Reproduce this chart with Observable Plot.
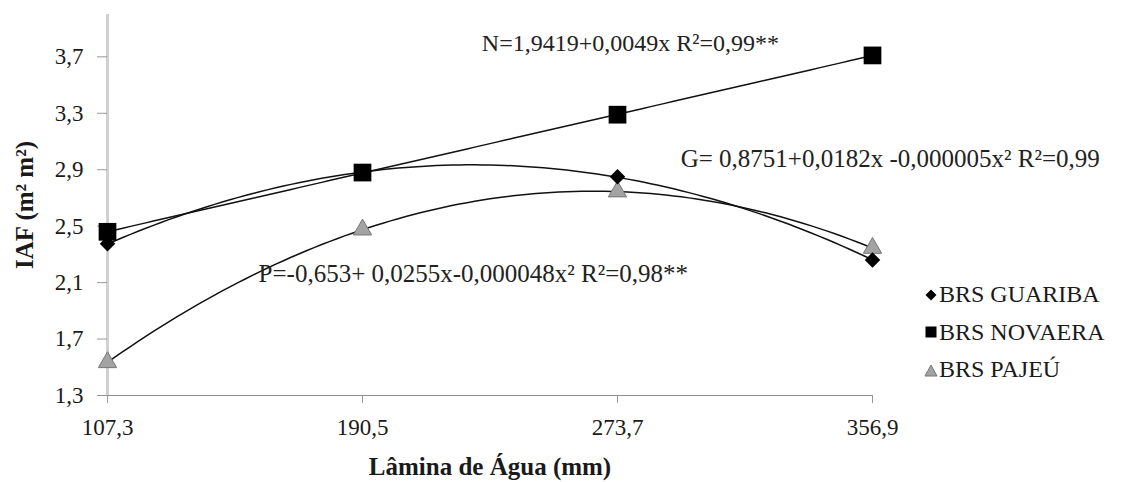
<!DOCTYPE html>
<html>
<head>
<meta charset="utf-8">
<script src="https://cdn.jsdelivr.net/npm/d3@7"></script>
<script src="https://cdn.jsdelivr.net/npm/@observablehq/plot@0.6"></script>
<style>
  html, body { margin: 0; padding: 0; background: #fff; }
  #wrap { position: relative; width: 1121px; height: 482px; font-family: "Liberation Serif", "Times New Roman", serif; }
  #legend { position: absolute; left: 924px; top: 276px; font-size: 24px; color: #1a1a1a; }
  #legend .item { display: flex; align-items: center; height: 37.5px; }
  #legend svg { margin-right: 1px; }
</style>
</head>
<body>
<div id="wrap"></div>
<script>
// ---- data ----
const laminas = [107.3, 190.5, 273.7, 356.9];
const guariba = [2.375, 2.88, 2.85, 2.26];
const novaera = [2.46, 2.88, 3.29, 3.71];
const pajeu   = [1.535, 2.475, 2.745, 2.345];
const yTicks = [1.3, 1.7, 2.1, 2.5, 2.9, 3.3, 3.7];
const seriesNames = ["BRS GUARIBA", "BRS NOVAERA", "BRS PAJEÚ"];
const eqText = [
  "N=1,9419+0,0049x R²=0,99**",
  "G= 0,8751+0,0182x -0,000005x² R²=0,99",
  "P=-0,653+ 0,0255x-0,000048x² R²=0,98**"
];
const eqX = [277.9, 294.3, 156.6];
const eqY = [3.795, 2.979, 2.164];

// ---- least squares polynomial fit (trendlines derived from data) ----
function polyfit(xs, ys, deg) {
  const n = deg + 1;
  const A = Array.from({length: n}, () => new Array(n + 1).fill(0));
  for (let i = 0; i < xs.length; i++) {
    for (let r = 0; r < n; r++) {
      for (let c = 0; c < n; c++) A[r][c] += Math.pow(xs[i], r + c);
      A[r][n] += ys[i] * Math.pow(xs[i], r);
    }
  }
  for (let i = 0; i < n; i++) {
    let p = i;
    for (let k = i + 1; k < n; k++) if (Math.abs(A[k][i]) > Math.abs(A[p][i])) p = k;
    [A[i], A[p]] = [A[p], A[i]];
    for (let k = i + 1; k < n; k++) {
      const f = A[k][i] / A[i][i];
      for (let j = i; j <= n; j++) A[k][j] -= f * A[i][j];
    }
  }
  const coef = new Array(n).fill(0);
  for (let i = n - 1; i >= 0; i--) {
    let s = A[i][n];
    for (let j = i + 1; j < n; j++) s -= A[i][j] * coef[j];
    coef[i] = s / A[i][i];
  }
  return x => coef.reduce((acc, c, k) => acc + c * Math.pow(x, k), 0);
}
function curve(ys, deg, name) {
  const f = polyfit(laminas, ys, deg);
  const x0 = laminas[0], x1 = laminas[laminas.length - 1];
  return d3.range(0, 101).map(i => {
    const x = x0 + (x1 - x0) * i / 100;
    return {x, y: f(x), s: name};
  });
}
const trend = [
  ...curve(guariba, 2, "G"),
  ...curve(novaera, 1, "N"),
  ...curve(pajeu, 2, "P")
];
const pts = (ys, s) => laminas.map((x, i) => ({x, y: ys[i], s}));
const ptsG = pts(guariba, "G"), ptsN = pts(novaera, "N"), ptsP = pts(pajeu, "P");
const eq = eqText.map((t, i) => ({text: t, x: eqX[i], y: eqY[i]}));

const comma = d => d.toFixed(1).replace(".", ",");

const chart = Plot.plot({
  width: 1121,
  height: 482,
  marginLeft: 107,
  marginRight: 249,
  marginTop: 14,
  marginBottom: 87,
  style: {fontFamily: "'Liberation Serif', 'Times New Roman', serif", fontSize: "23px", color: "#1a1a1a", background: "#fff"},
  x: {domain: [107.3, 356.9]},
  y: {domain: [1.3, 4.0]},
  marks: [
    Plot.ruleY([1.3], {stroke: "#8c8c8c", strokeWidth: 1.2}),
    Plot.ruleX([107.3], {stroke: "#d0d0d0", strokeWidth: 3}),
    Plot.axisY({ticks: yTicks, tickFormat: comma, tickSize: 10, tickPadding: 14, stroke: "#999",
      label: "IAF (m² m²)", labelAnchor: "center", labelOffset: 92, labelArrow: "none",
      fontSize: 23}),
    Plot.axisX({ticks: laminas, tickFormat: comma, tickSize: 8, tickPadding: 15, stroke: "#999",
      label: "Lâmina de Água (mm)", labelAnchor: "center", labelOffset: 79, labelArrow: "none",
      fontSize: 23}),
    Plot.line(trend, {x: "x", y: "y", z: "s", stroke: "#111", strokeWidth: 1.5, curve: "linear"}),
    Plot.dot(ptsP, {x: "x", y: "y", symbol: "triangle", r: 6.8, fill: "#a3a3a3", stroke: "#777", strokeWidth: 1}),
    Plot.dot(ptsG, {x: "x", y: "y", symbol: "square", r: 6.2, rotate: 45, fill: "#000"}),
    Plot.dot(ptsN, {x: "x", y: "y", symbol: "square", r: 10, fill: "#000"}),
    Plot.text(eq.slice(0, 1), {x: "x", y: "y", text: "text", textAnchor: "middle", fontSize: 24, fill: "#222"}),
    Plot.text(eq.slice(1), {x: "x", y: "y", text: "text", textAnchor: "start", fontSize: 25, fill: "#222"})
  ]
});
// bold, larger axis titles
chart.querySelectorAll("[aria-label='x-axis label'] text, [aria-label='y-axis label'] text").forEach(t => {
  t.setAttribute("font-weight", "bold");
  t.setAttribute("font-size", "25");
});
const wrap = document.getElementById("wrap");
wrap.appendChild(chart);

// legend
const legend = document.createElement("div");
legend.id = "legend";
const symbols = [
  '<svg width="14" height="14"><path d="M7,1.5 L12.5,7 L7,12.5 L1.5,7 Z" fill="#000"/></svg>',
  '<svg width="14" height="14"><rect x="1.5" y="1.5" width="11" height="11" fill="#000"/></svg>',
  '<svg width="14" height="14"><path d="M7,2 L13,13 L1,13 Z" fill="#a3a3a3" stroke="#777"/></svg>'
];
seriesNames.forEach((n, i) => {
  const it = document.createElement("div");
  it.className = "item";
  it.innerHTML = symbols[i] + "<span>" + n + "</span>";
  legend.appendChild(it);
});
wrap.appendChild(legend);
</script>
</body>
</html>
